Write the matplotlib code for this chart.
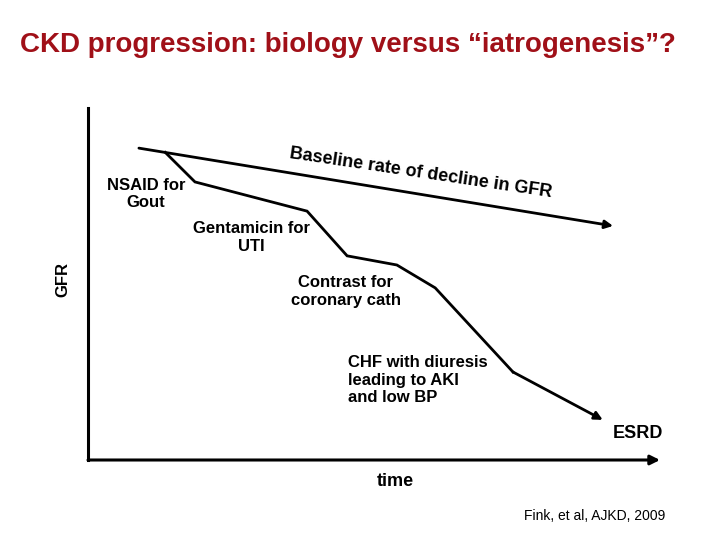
import numpy as np
import matplotlib.pyplot as plt

plt.rcParams['font.family'] = ['Liberation Sans', 'DejaVu Sans']

# baseline decline of GFR over time (arbitrary units)
base_t = [8.9, 91.8]
base_gfr = [88.6, 66.5]

# stepwise decline after each insult
path_t = [13.5, 18.7, 38.3, 45.3, 54.0, 60.7, 74.3, 90.0]
path_gfr = [87.4, 79.0, 70.7, 58.0, 55.4, 48.9, 25.0, 11.4]

events = ['NSAID for\nGout', 'Gentamicin for\nUTI', 'Contrast for\ncoronary cath',
          'CHF with diuresis\nleading to AKI\nand low BP', 'ESRD']
event_x = [10.1, 28.5, 45.1, 45.5, 96.2]
event_y = [75.6, 63.2, 47.9, 22.7, 7.4]
event_ha = ['center', 'center', 'center', 'left', 'center']
event_size = [12, 12, 12, 12, 13]

fig = plt.figure(figsize=(7.2, 5.4), dpi=100)
fig.text(0.4826, 1 - 52 / 540, 'CKD progression: biology versus \u201ciatrogenesis\u201d?',
         color='#a01018', fontsize=20, fontweight='bold', ha='center', va='baseline')

ax = fig.add_axes([88 / 720, 80 / 540, 572 / 720, 352 / 540])
ax.set_xlim(0, 100)
ax.set_ylim(0, 100)
for s in ['top', 'right', 'bottom']:
    ax.spines[s].set_visible(False)
ax.spines['left'].set_linewidth(2.2)
ax.set_xticks([])
ax.set_yticks([])
ax.patch.set_alpha(0)

# x axis with arrow
ax.annotate('', xy=(100, 0), xytext=(0, 0), annotation_clip=False,
            arrowprops=dict(arrowstyle='-|>', lw=2.2, color='black',
                            mutation_scale=14, shrinkA=0, shrinkB=0))

ax.annotate('', xy=(base_t[1], base_gfr[1]), xytext=(base_t[0], base_gfr[0]),
            arrowprops=dict(arrowstyle='-|>', lw=2, color='black',
                            mutation_scale=12, shrinkA=0, shrinkB=0))

ax.plot(path_t[:-1], path_gfr[:-1], color='black', lw=2, solid_joinstyle='miter')
ax.annotate('', xy=(path_t[-1], path_gfr[-1]), xytext=(path_t[-2], path_gfr[-2]),
            arrowprops=dict(arrowstyle='-|>', lw=2, color='black',
                            mutation_scale=12, shrinkA=0, shrinkB=0))

for lab, x, y, ha, fs in zip(events, event_x, event_y, event_ha, event_size):
    ax.text(x, y, lab, ha=ha, va='center', fontsize=fs, fontweight='bold',
            linespacing=1.2, multialignment=ha)

ax.text(58.2, 81.5, 'Baseline rate of decline in GFR', rotation=-8.5,
        ha='center', va='center', fontsize=13, fontweight='bold',
        rotation_mode='anchor')

ax.text(-4.4, 51.4, 'GFR', rotation=90, ha='center', va='center',
        fontsize=12, fontweight='bold')
ax.text(53.7, -6.0, 'time', ha='center', va='center',
        fontsize=13, fontweight='bold')

fig.text(665 / 720, 1 - 516 / 540, 'Fink, et al, AJKD, 2009', ha='right',
         va='center', fontsize=10)

fig.savefig('out.png', dpi=100)
